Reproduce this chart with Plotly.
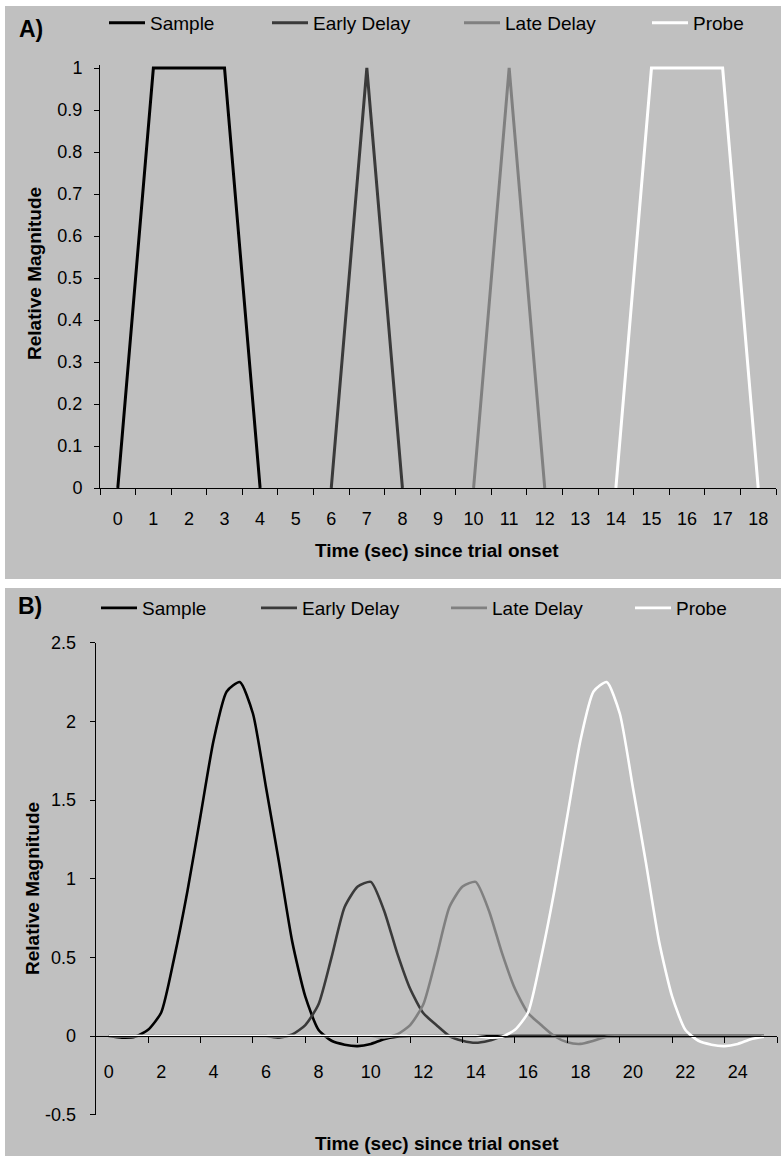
import plotly.graph_objects as go

# ---------------- Panel A data (categories 0..18) ----------------
a_time = [0, 1, 2, 3, 4, 5, 6, 7, 8, 9, 10, 11, 12, 13, 14, 15, 16, 17, 18]
a_sample = [0, 1, 1, 1, 0, None, None, None, None, None, None, None, None, None, None, None, None, None, None]
a_early = [None, None, None, None, None, None, 0, 1, 0, None, None, None, None, None, None, None, None, None, None]
a_late = [None, None, None, None, None, None, None, None, None, None, 0, 1, 0, None, None, None, None, None, None]
a_probe = [None, None, None, None, None, None, None, None, None, None, None, None, None, None, 0, 1, 1, 1, 0]

# ---------------- Panel B data (0.5 s steps, 0..25) ----------------
b_time = [0, 0.5, 1, 1.5, 2, 2.5, 3, 3.5, 4, 4.5, 5, 5.5, 6, 6.5, 7, 7.5, 8, 8.5, 9, 9.5,
          10, 10.5, 11, 11.5, 12, 12.5, 13, 13.5, 14, 14.5, 15, 15.5, 16, 16.5, 17, 17.5, 18, 18.5, 19, 19.5,
          20, 20.5, 21, 21.5, 22, 22.5, 23, 23.5, 24, 24.5, 25]
b_sample = [0, -0.01, -0.005, 0.04, 0.15, 0.5, 0.92, 1.4, 1.88, 2.19, 2.25, 2.05, 1.58, 1.1, 0.6, 0.25, 0.04, -0.03, -0.055, -0.064,
            -0.05, -0.02, -0.005, 0, 0, 0, 0, 0, 0, 0, 0, 0, 0, 0, 0, 0, 0, 0, 0, 0,
            0, 0, 0, 0, 0, 0, 0, 0, 0, 0, 0]
b_early = [0, 0, 0, 0, 0, 0, 0, 0, 0, 0, 0, 0, 0, -0.01, 0.01, 0.07, 0.2, 0.5, 0.82, 0.95,
           0.98, 0.8, 0.53, 0.3, 0.146, 0.07, 0.0, -0.03, -0.043, -0.03, -0.005, 0, 0, 0, 0, 0, 0, 0, 0, 0,
           0, 0, 0, 0, 0, 0, 0, 0, 0, 0, 0]
b_late = [0, 0, 0, 0, 0, 0, 0, 0, 0, 0, 0, 0, 0, 0, 0, 0, 0, 0, 0, 0,
          0, -0.01, 0.01, 0.07, 0.2, 0.5, 0.82, 0.95, 0.98, 0.8, 0.53, 0.3, 0.146, 0.07, 0.0, -0.04, -0.05, -0.03, -0.005, 0,
          0, 0, 0, 0, 0, 0, 0, 0, 0, 0, 0]
b_probe = [0, 0, 0, 0, 0, 0, 0, 0, 0, 0, 0, 0, 0, 0, 0, 0, 0, 0, 0, 0,
           0, 0, 0, 0, 0, 0, 0, 0, 0, -0.01, -0.005, 0.04, 0.15, 0.5, 0.92, 1.4, 1.88, 2.19, 2.25, 2.05,
           1.58, 1.1, 0.6, 0.25, 0.04, -0.03, -0.055, -0.064, -0.05, -0.02, -0.005]

series_names = ["Sample", "Early Delay", "Late Delay", "Probe"]
series_colors = ["#000000", "#3a3a3a", "#808080", "#ffffff"]

a_ticks = [0, 1, 2, 3, 4, 5, 6, 7, 8, 9, 10, 11, 12, 13, 14, 15, 16, 17, 18]
a_yticks = [0, 0.1, 0.2, 0.3, 0.4, 0.5, 0.6, 0.7, 0.8, 0.9, 1]
b_ticks = [0, 2, 4, 6, 8, 10, 12, 14, 16, 18, 20, 22, 24]
b_yticks = [-0.5, 0, 0.5, 1, 1.5, 2, 2.5]
b_yticktext = ["-0.5", "0", "0.5", "1", "1.5", "2", "2.5"]

W, H = 781, 1156
FONT = "Arial, Liberation Sans, sans-serif"
BG = "#c0c0c0"


def fx(p):
    return p / W


def fy(p):
    return 1 - p / H


fig = go.Figure()

a_data = [a_sample, a_early, a_late, a_probe]
b_data = [b_sample, b_early, b_late, b_probe]

for i, (name, col) in enumerate(zip(series_names, series_colors)):
    fig.add_trace(go.Scatter(
        x=a_time, y=a_data[i], mode="lines", name=name,
        line=dict(color=col, width=3), connectgaps=False,
        xaxis="x", yaxis="y", legend="legend" if i == 0 else f"legend{i + 1}",
        showlegend=True))

for i, (name, col) in enumerate(zip(series_names, series_colors)):
    fig.add_trace(go.Scatter(
        x=b_time, y=b_data[i], mode="lines", name=name,
        line=dict(color=col, width=2.6, shape="spline", smoothing=0.6),
        xaxis="x2", yaxis="y2", legend=f"legend{i + 5}",
        showlegend=True))

# geometry (pixels)
A_X0, A_X1 = 100, 776
A_Y0PX, A_Y1PX = 488, 68          # y=0 and y=1 pixel rows
A_TOP = 1.008
a_top_px = A_Y0PX - (A_Y0PX - A_Y1PX) * A_TOP

B_X0, B_X1 = 95.7, 777
B_TOPPX, B_BOTPX = 642.7, 1114.7
b_zero_px = B_BOTPX - (B_BOTPX - B_TOPPX) * (0.5 / 3.0)

tickfont = dict(family=FONT, size=18, color="black")

layout = dict(
    width=W, height=H,
    margin=dict(l=0, r=0, t=0, b=0, autoexpand=False),
    paper_bgcolor="white",
    plot_bgcolor=BG,
    xaxis=dict(domain=[fx(A_X0), fx(A_X1)], range=[-0.5, 18.5], anchor="y",
               tickmode="array", tickvals=a_ticks, ticks="",
               showline=True, linecolor="black", linewidth=1,
               showgrid=False, zeroline=False, tickfont=tickfont,
               ticklabelstandoff=14, automargin=False,
               minor=dict(tick0=0.5, dtick=1, ticks="outside", ticklen=6,
                          tickcolor="black", tickwidth=1, showgrid=False)),
    yaxis=dict(domain=[fy(A_Y0PX), fy(a_top_px)], range=[0, A_TOP], anchor="x",
               tickmode="array", tickvals=a_yticks, ticks="outside", ticklen=5,
               tickcolor="black", showline=True, linecolor="black", linewidth=1,
               showgrid=False, zeroline=False, tickfont=tickfont,
               ticklabelstandoff=8, automargin=False),
    xaxis2=dict(domain=[fx(B_X0), fx(B_X1)], range=[-0.5, 25.5], anchor="free",
                position=fy(b_zero_px),
                tickmode="array", tickvals=b_ticks, ticks="",
                showline=True, linecolor="black", linewidth=1,
                showgrid=False, zeroline=False, tickfont=tickfont,
                ticklabelstandoff=19, automargin=False,
                minor=dict(tick0=1.5, dtick=2, ticks="outside", ticklen=6,
                           tickcolor="black", tickwidth=1, showgrid=False)),
    yaxis2=dict(domain=[fy(B_BOTPX), fy(B_TOPPX)], range=[-0.5, 2.5], anchor="x2",
                tickmode="array", tickvals=b_yticks, ticktext=b_yticktext,
                ticks="outside", ticklen=5, tickcolor="black",
                showline=True, linecolor="black", linewidth=1,
                showgrid=False, zeroline=False, tickfont=tickfont,
                ticklabelstandoff=10, automargin=False),
    shapes=[
        dict(type="rect", xref="paper", yref="paper", x0=fx(5), x1=1, y0=fy(579), y1=fy(6),
             fillcolor=BG, line=dict(width=0), layer="below"),
        dict(type="rect", xref="paper", yref="paper", x0=fx(5), x1=1, y0=0, y1=fy(588),
             fillcolor=BG, line=dict(width=0), layer="below"),
    ],
    annotations=[
        dict(text="<b>A)</b>", x=fx(17), y=fy(29), xref="paper", yref="paper",
             xanchor="left", yanchor="middle", showarrow=False,
             font=dict(family=FONT, size=23, color="black")),
        dict(text="<b>B)</b>", x=fx(16), y=fy(606), xref="paper", yref="paper",
             xanchor="left", yanchor="middle", showarrow=False,
             font=dict(family=FONT, size=23, color="black")),
        dict(text="<b>Time (sec) since trial onset</b>", x=fx(437), y=fy(550), xref="paper", yref="paper",
             xanchor="center", yanchor="middle", showarrow=False,
             font=dict(family=FONT, size=19, color="black")),
        dict(text="<b>Time (sec) since trial onset</b>", x=fx(437), y=fy(1143), xref="paper", yref="paper",
             xanchor="center", yanchor="middle", showarrow=False,
             font=dict(family=FONT, size=19, color="black")),
        dict(text="<b>Relative Magnitude</b>", x=fx(35), y=fy(274), xref="paper", yref="paper",
             xanchor="center", yanchor="middle", showarrow=False, textangle=-90,
             font=dict(family=FONT, size=19, color="black")),
        dict(text="<b>Relative Magnitude</b>", x=fx(32), y=fy(889), xref="paper", yref="paper",
             xanchor="center", yanchor="middle", showarrow=False, textangle=-90,
             font=dict(family=FONT, size=19, color="black")),
    ],
)

legend_a_x = [110, 273, 465, 653]
legend_b_x = [102, 262, 452, 636]
for i in range(8):
    key = "legend" if i == 0 else f"legend{i + 1}"
    lx = legend_a_x[i] if i < 4 else legend_b_x[i - 4]
    ly = 23 if i < 4 else 608
    layout[key] = dict(x=fx(lx - 6), y=fy(ly), xanchor="left", yanchor="middle",
                       xref="paper", yref="paper", orientation="h",
                       bgcolor="rgba(0,0,0,0)", borderwidth=0, itemwidth=36,
                       font=dict(family=FONT, size=19, color="black"),
                       itemclick=False, itemdoubleclick=False)

fig.update_layout(**layout)
fig.write_html("out.html", config={"displayModeBar": False},
               post_script="document.body.style.margin='0';document.body.style.overflow='hidden';")
